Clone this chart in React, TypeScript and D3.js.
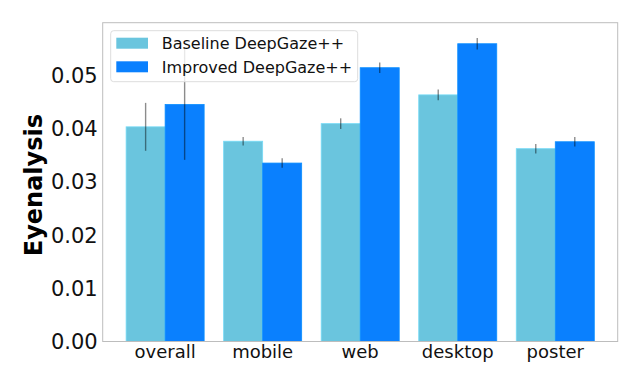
import * as d3 from 'd3';

const categories = ['overall', 'mobile', 'web', 'desktop', 'poster'];
const seriesNames = ['Baseline DeepGaze++', 'Improved DeepGaze++'];
const baselineValues = [0.0403, 0.0376, 0.0409, 0.0463, 0.0362];
const baselineErrors = [0.0045, 0.0008, 0.0010, 0.0010, 0.0009];
const improvedValues = [0.0445, 0.0335, 0.0514, 0.0559, 0.0375];
const improvedErrors = [0.0104, 0.0009, 0.0010, 0.0011, 0.0009];
const yTicks = [0, 0.01, 0.02, 0.03, 0.04, 0.05];
const colors = ['#6AC5DE', '#0A80FE'];

const W = 640;
const H = 384;
const left = 102.7;
const right = 617.7;
const top = 22.7;
const bottom = 341.5;
const barWidth = 0.4;

export default function App() {
  const x = d3.scaleLinear().domain([-0.64, categories.length - 1 + 0.64]).range([left, right]);
  const y = d3.scaleLinear().domain([0, 0.05985]).range([bottom, top]);
  const fmt = d3.format('.2f');

  const series = [
    { values: baselineValues, errors: baselineErrors, offset: -barWidth / 2 },
    { values: improvedValues, errors: improvedErrors, offset: barWidth / 2 },
  ];

  return (
    <svg
      width={W}
      height={H}
      style={{ position: 'absolute', left: 0, top: 0, background: '#fff' }}
      fontFamily="DejaVu Sans, sans-serif"
    >
      {/* bars */}
      {series.map((s, si) => (
        <g key={si}>
          {s.values.map((v, i) => {
            const x0 = x(i + s.offset - barWidth / 2);
            const x1 = x(i + s.offset + barWidth / 2);
            return (
              <rect
                key={i}
                x={x0}
                y={y(v)}
                width={x1 - x0}
                height={y(0) - y(v)}
                fill={colors[si]}
                stroke={d3.color(colors[si])!.brighter(0.3).toString()}
                strokeWidth={0.8}
              />
            );
          })}
        </g>
      ))}

      {/* error bars */}
      {series.map((s, si) => (
        <g key={'e' + si}>
          {s.values.map((v, i) => (
            <line
              key={i}
              x1={x(i + s.offset)}
              x2={x(i + s.offset)}
              y1={y(v - s.errors[i])}
              y2={y(v + s.errors[i])}
              stroke="#000"
              strokeOpacity={0.45}
              strokeWidth={1.4}
            />
          ))}
        </g>
      ))}

      {/* frame */}
      <rect x={left} y={top} width={right - left} height={bottom - top} fill="none" stroke="#bdbdbd" strokeWidth={1} />

      {/* y ticks */}
      {yTicks.map((t) => (
        <text key={t} x={left - 5} y={y(t)} dy="0.36em" textAnchor="end" fontSize={21} fill="#111">
          {fmt(t)}
        </text>
      ))}

      {/* x ticks */}
      {categories.map((c, i) => (
        <text key={c} x={x(i)} y={bottom + 16} textAnchor="middle" fontSize={18} fill="#111">
          {c}
        </text>
      ))}

      {/* y label */}
      <text
        transform={`translate(${42}, ${(top + bottom) / 2 + 3}) rotate(-90)`}
        textAnchor="middle"
        fontSize={24}
        fontWeight="bold"
        fill="#000"
      >
        Eyenalysis
      </text>

      {/* legend */}
      <g>
        <rect x={110.7} y={30.7} width={247} height={51} rx={3} fill="#fff" fillOpacity={0.8} stroke="#dddddd" strokeWidth={1} />
        {seriesNames.map((n, i) => (
          <g key={n} transform={`translate(116.3, ${37.7 + i * 23.6})`}>
            <rect x={0} y={0} width={31.7} height={11} fill={colors[i]} />
            <text x={45.4} y={5.5} dy="0.36em" fontSize={16} fill="#111">
              {n}
            </text>
          </g>
        ))}
      </g>
    </svg>
  );
}
